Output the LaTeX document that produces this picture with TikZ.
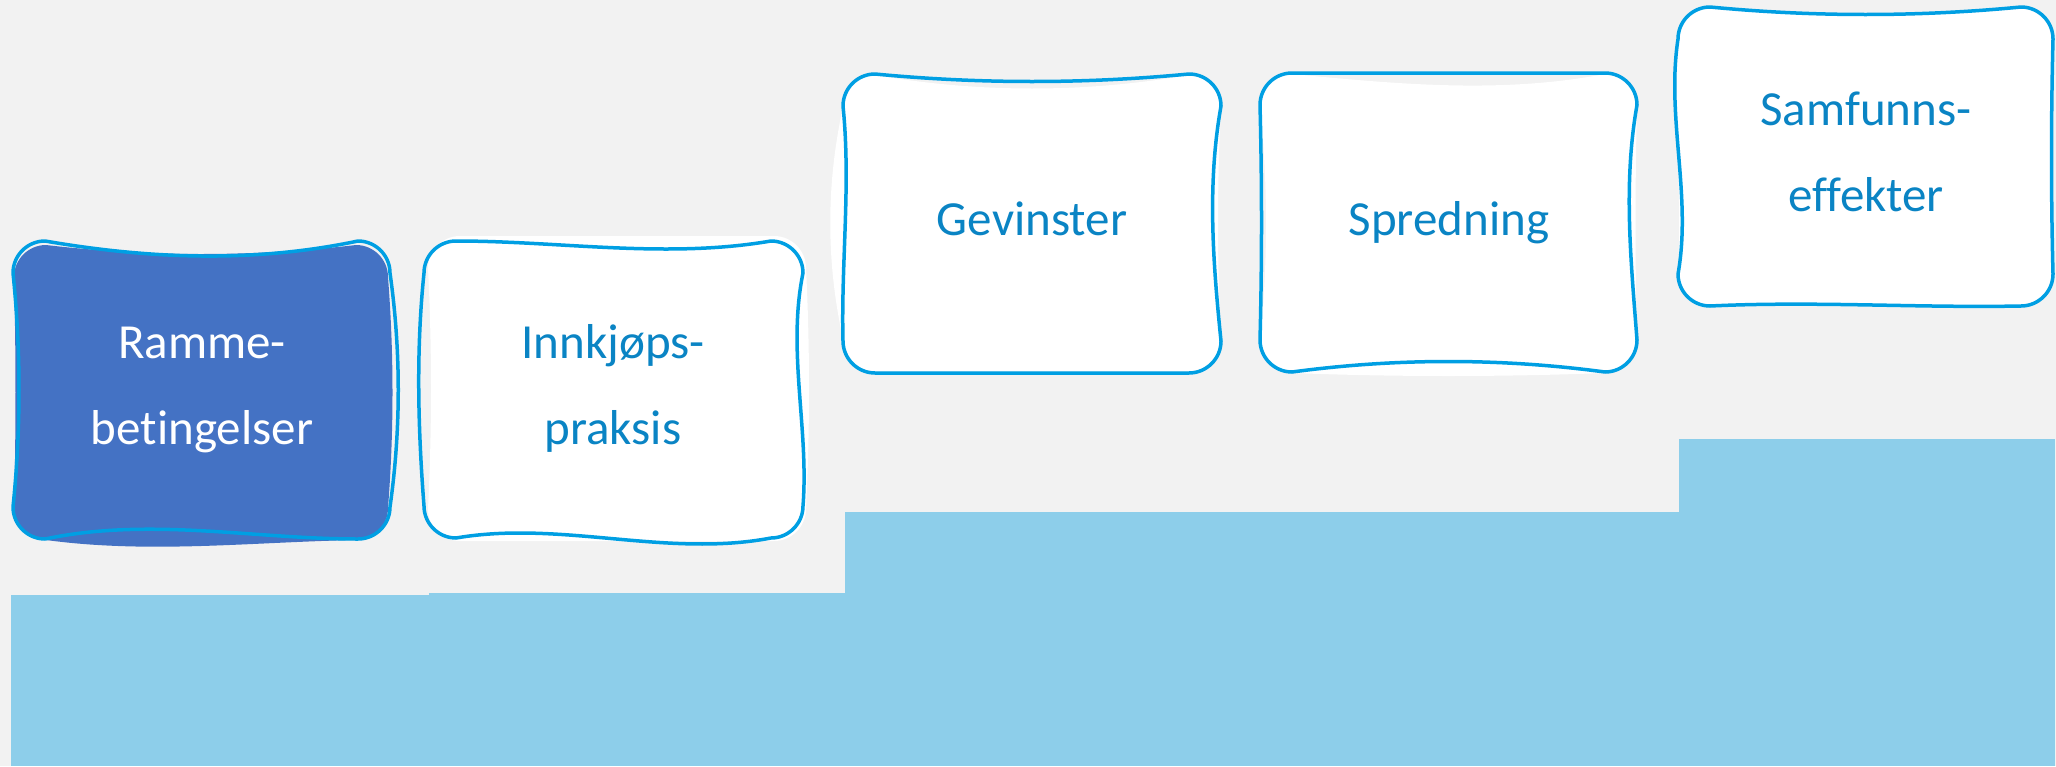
\documentclass[tikz,border=0pt]{standalone}
\usepackage{fontspec}
\setmainfont{Carlito}[Ligatures={NoCommon}]
\definecolor{bgc}{HTML}{F2F2F2}
\definecolor{stairc}{HTML}{8DCEEA}
\definecolor{edgec}{HTML}{009FE3}
\definecolor{textc}{HTML}{0A84C4}
\definecolor{darkfill}{HTML}{4472C4}
\def\skparse#1,#2,#3,#4,#5,#6,#7,#8\relax{\def\skTa{#1}\def\skTb{#2}\def\skRa{#3}\def\skRb{#4}\def\skBa{#5}\def\skBb{#6}\def\skLa{#7}\def\skLb{#8}}
\newcommand\skbox[6]{%
  \skparse#6\relax
  \def\skX{#2}\def\skY{#3}\def\skXX{#4}\def\skYY{#5}\def\skr{32}%
  \pgfmathsetmacro\skW{(\skXX-\skX-2*\skr)/3}%
  \pgfmathsetmacro\skH{(\skYY-\skY-2*\skr)/3}%
  \path[#1] ({\skX+\skr},{\skY})
   .. controls ({\skX+\skr+\skW},{\skY-(\skTa)}) and ({\skXX-\skr-\skW},{\skY-(\skTb)}) .. ({\skXX-\skr},{\skY})
   .. controls ({\skXX-0.45*\skr},{\skY}) and ({\skXX},{\skY+0.45*\skr}) .. ({\skXX},{\skY+\skr})
   .. controls ({\skXX+(\skRa)},{\skY+\skr+\skH}) and ({\skXX+(\skRb)},{\skYY-\skr-\skH}) .. ({\skXX},{\skYY-\skr})
   .. controls ({\skXX},{\skYY-0.45*\skr}) and ({\skXX-0.45*\skr},{\skYY}) .. ({\skXX-\skr},{\skYY})
   .. controls ({\skXX-\skr-\skW},{\skYY+(\skBa)}) and ({\skX+\skr+\skW},{\skYY+(\skBb)}) .. ({\skX+\skr},{\skYY})
   .. controls ({\skX+0.45*\skr},{\skYY}) and ({\skX},{\skYY-0.45*\skr}) .. ({\skX},{\skYY-\skr})
   .. controls ({\skX-(\skLa)},{\skYY-\skr-\skH}) and ({\skX-(\skLb)},{\skY+\skr+\skH}) .. ({\skX},{\skY+\skr})
   .. controls ({\skX},{\skY+0.45*\skr}) and ({\skX+0.45*\skr},{\skY}) .. ({\skX+\skr},{\skY}) -- cycle;
}
\tikzset{
  stair/.style={fill=stairc},
  whitefill/.style={fill=white},
  bluefill/.style={fill=darkfill},
  outline/.style={draw=edgec, line width=1.75pt, line join=round},
  label/.style={font=\fontsize{24.5}{43}\selectfont, text=textc, align=center, inner sep=0pt},
  labelw/.style={label, text=white}
}
\begin{document}
\begin{tikzpicture}[x=0.5pt,y=-0.5pt]
\useasboundingbox (0,0) rectangle (2056,766);
\fill[bgc] (0,0) rectangle (2056,766);
% staircase
\fill[stair] (11,595) rectangle (429,766);
\fill[stair] (429,593) rectangle (845,766);
\fill[stair] (845,512) rectangle (1679,766);
\fill[stair] (1679,439) rectangle (2055,766);
% box 1
\skbox{bluefill}{14}{245}{388}{540}{-12,-12,6,6,2,14,-2,-2}
\skbox{outline}{13}{241}{390}{539}{-18,-22,11,11,0,-22,-8,-8}
% box 2
\skbox{whitefill}{428}{236}{806}{541}{0,0,4,4,0,0,-4,-4}
\skbox{outline}{424}{241}{803}{538}{0,-18,-16,6,20,-18,6,8}
% box 3
\skbox{whitefill}{843}{75}{1221}{371}{-18,-18,-4,-4,0,0,17,17}
\skbox{outline}{843}{74}{1221}{373}{-10,-10,-14,-8,0,0,2,-8}
% box 4
\skbox{whitefill}{1260}{74}{1637}{373}{-10,-20,-2,-2,4,4,-8,-8}
\skbox{outline}{1260}{73}{1637}{372}{0,0,-14,-6,-14,-14,-2,-2}
% box 5
\skbox{whitefill}{1678}{8}{2053}{306}{-8,-8,-2,-2,0,0,-4,4}
\skbox{outline}{1678}{7}{2053}{306}{-10,-10,-2,-2,2,-5,-14,12}
% labels
\node[labelw] (t1) at (202,390) {Ramme-\\betingelser};
\node[label] (t2) at (613,388) {Innkjøps-\\praksis};
\node[label, anchor=base] (t3) at (1032,235) {Gevinster};
\node[label, anchor=base] (t4) at (1449,235) {Spredning};
\node[label] (t5) at (1866,152) {Samfunns-\\effekter};
\end{tikzpicture}
\end{document}
